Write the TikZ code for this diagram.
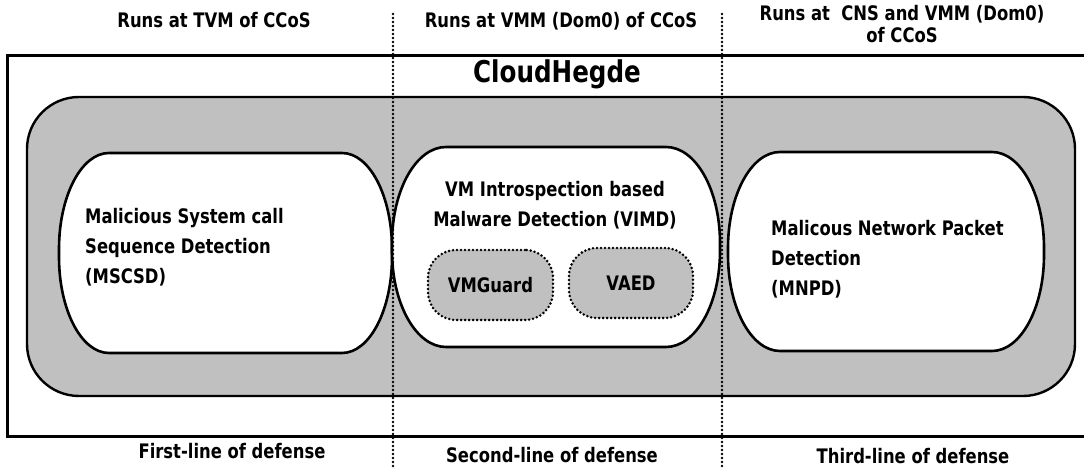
\documentclass[tikz,border=0pt]{standalone}
\usepackage{fontspec}
\setmainfont{DejaVu Sans}[FakeStretch=0.82]
\newcommand\txtsize{\fontsize{20}{30}\selectfont\bfseries}
\newcommand\titlesize{\fontsize{30}{36}\selectfont\bfseries}
\newcommand\stack[2]{\begin{tabular}[t]{@{}#1@{}}#2\end{tabular}}
\definecolor{panelgray}{RGB}{192,192,192}

% rounded box with elliptical corners: x1,y1,x2,y2,rx,ry
\newcommand\capsule[6]{%
  \path[capsulebox] ({#1+#5},#4) -- ({#3-#5},#4)
    arc[start angle=90, end angle=0, x radius=#5, y radius=#6]
    -- (#3,{#2+#6})
    arc[start angle=0, end angle=-90, x radius=#5, y radius=#6]
    -- ({#1+#5},#2)
    arc[start angle=270, end angle=180, x radius=#5, y radius=#6]
    -- (#1,{#4-#6})
    arc[start angle=180, end angle=90, x radius=#5, y radius=#6]
    -- cycle;}

\tikzset{
  outerline/.style={line width=3pt},
  band/.style={draw, line width=2.4pt, fill=panelgray, rounded corners=52pt},
  capsulebox/.style={draw, line width=2.6pt, fill=white},
  subbox/.style={draw, fill=panelgray, line width=2.8pt, dash pattern=on 0pt off 4pt,
    line cap=round, rounded corners=28pt, minimum width=125pt, minimum height=70pt,
    inner sep=0pt, font=\txtsize},
  divider/.style={line width=2.8pt, dash pattern=on 0pt off 4pt, line cap=round},
  txt/.style={inner sep=0pt, font=\txtsize},
}

\begin{document}
\begin{tikzpicture}[x=1pt, y=1pt]
\useasboundingbox[fill=white] (0,0) rectangle (1084,473);

% outer frame, open on the right
\draw[outerline] (1084,417) -- (7,417) -- (7,36) -- (1084,36);

% grey band holding the three detectors
\path[band] (27,77) rectangle (1075,376);

% detector boxes
\capsule{59}{120}{392}{320}{50}{96}
\capsule{392}{126}{720}{326}{54}{96}
\capsule{728}{122}{1044}{321}{52}{96}

% title
\node[anchor=base, inner sep=0pt, font=\titlesize] (title) at (557,390) {CloudHegde};

% detector texts
\node[txt, anchor=base west] (mscsd) at (85,249)
  {\stack{l}{Malicious System call\\Sequence Detection\\(MSCSD)}};
\node[txt, anchor=base] (vimd) at (555,276)
  {\stack{c}{VM Introspection based\\Malware Detection (VIMD)}};
\node[txt, anchor=base west] (mnpd) at (771,237)
  {\stack{l}{Malicous Network Packet\\Detection\\(MNPD)}};

% VIMD sub-modules
\node[subbox] (vmguard) at (490.5,188) {VMGuard};
\node[subbox, minimum width=124pt] (vaed) at (631,190) {VAED};

% headers
\node[txt, anchor=base] (hdrA) at (214,445) {Runs at TVM of CCoS};
\node[txt, anchor=base] (hdrB) at (561,445) {Runs at VMM (Dom0) of CCoS};
\node[txt, anchor=base] (hdrC) at (902,452)
  {\renewcommand\arraystretch{0.7}\stack{c}{Runs at~ CNS and VMM (Dom0)\\of CCoS}};

% footers
\node[txt, anchor=base] (lineA) at (232,14) {First-line of defense};
\node[txt, anchor=base] (lineB) at (552,10) {Second-line of defense};
\node[txt, anchor=base] (lineC) at (913,9) {Third-line of defense};

% dotted dividers between the zones
\coordinate (d1top) at (393,459);
\coordinate (d1bot) at (393,4);
\coordinate (d2top) at (722,459);
\coordinate (d2bot) at (722,4);
\draw[divider] (d1top) -- (d1bot);
\draw[divider] (d2top) -- (d2bot);
\end{tikzpicture}
\end{document}
